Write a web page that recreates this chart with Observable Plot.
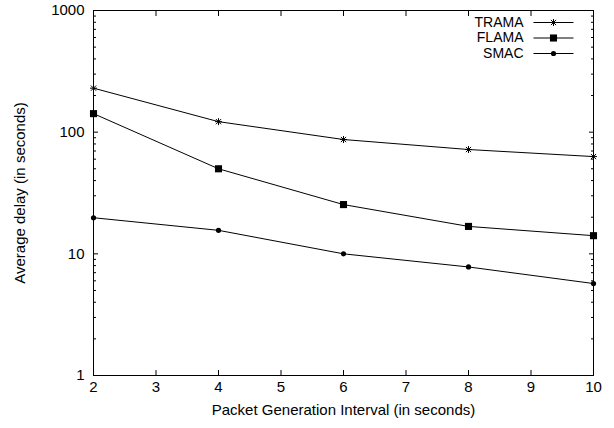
<!DOCTYPE html>
<html>
<head>
<meta charset="utf-8">
<script src="https://cdn.jsdelivr.net/npm/d3@7"></script>
<script src="https://cdn.jsdelivr.net/npm/@observablehq/plot@0.6"></script>
<style>
  html, body { margin: 0; padding: 0; background: #fff; }
  #chart { width: 614px; height: 428px; }
</style>
</head>
<body>
<div id="chart"></div>
<script>
// ---- data ----
const intervals = [2, 4, 6, 8, 10];
const tramaDelay = [230, 122, 87, 72, 63];
const flamaDelay = [142, 50, 25.4, 16.8, 14.1];
const smacDelay = [19.8, 15.6, 10, 7.8, 5.7];
const seriesNames = ["TRAMA", "FLAMA", "SMAC"];
const xTicks = [2, 3, 4, 5, 6, 7, 8, 9, 10];
const yMajorTicks = [1, 10, 100, 1000];
const yMinorTicks = [2,3,4,5,6,7,8,9,20,30,40,50,60,70,80,90,200,300,400,500,600,700,800,900];
const xLabel = "Packet Generation Interval (in seconds)";
const yLabel = "Average delay (in seconds)";

// ---- table ----
const seriesValues = [tramaDelay, flamaDelay, smacDelay];
const rows = seriesNames.flatMap((name, s) =>
  intervals.map((x, i) => ({series: name, x, y: seriesValues[s][i]})));

// ---- symbols ----
const asterisk = {
  draw(ctx) {
    const r = 3.5, d = 2.6;
    ctx.moveTo(-r, 0); ctx.lineTo(r, 0);
    ctx.moveTo(0, -r); ctx.lineTo(0, r);
    ctx.moveTo(-d, -d); ctx.lineTo(d, d);
    ctx.moveTo(-d, d); ctx.lineTo(d, -d);
  }
};
const hline = {
  draw(ctx) { ctx.moveTo(-20, 0); ctx.lineTo(20, 0); }
};
const markerFor = {
  TRAMA: {symbol: asterisk, fill: "none", stroke: "black", strokeWidth: 1},
  FLAMA: {symbol: "square", r: 4, fill: "black", stroke: "none"},
  SMAC: {symbol: "circle", r: 2.6, fill: "black", stroke: "none"}
};

const font = "Liberation Sans, Arial, Helvetica, sans-serif";
const noText = () => "";

const marks = [
  Plot.frame({stroke: "black", strokeWidth: 1}),
  // major/minor inward ticks
  Plot.axisX({anchor: "bottom", ticks: xTicks, tickSize: -5, tickFormat: noText, label: null}),
  Plot.axisX({anchor: "top", ticks: xTicks, tickSize: -5, tickFormat: noText, label: null}),
  Plot.axisY({anchor: "left", ticks: yMajorTicks, tickSize: -5, tickFormat: noText, label: null}),
  Plot.axisY({anchor: "right", ticks: yMajorTicks, tickSize: -5, tickFormat: noText, label: null}),
  Plot.axisY({anchor: "left", ticks: yMinorTicks, tickSize: -3, tickFormat: noText, label: null}),
  Plot.axisY({anchor: "right", ticks: yMinorTicks, tickSize: -3, tickFormat: noText, label: null}),
  // labels
  Plot.axisX({anchor: "bottom", ticks: xTicks, tickSize: 0, tickPadding: 6, fontSize: 15,
    label: xLabel, labelAnchor: "center", labelArrow: "none", labelOffset: 39}),
  Plot.axisY({anchor: "left", ticks: yMajorTicks, tickSize: 0, tickPadding: 9, fontSize: 15,
    tickFormat: d => String(d),
    label: yLabel, labelAnchor: "center", labelArrow: "none", labelOffset: 79}),
];

seriesNames.forEach((name, i) => {
  const data = rows.filter(d => d.series === name);
  marks.push(Plot.line(data, {x: "x", y: "y", stroke: "black", strokeWidth: 1}));
  marks.push(Plot.dot(data, {x: "x", y: "y", ...markerFor[name]}));
  // legend
  const ly = 12 + 15.5 * i;
  marks.push(Plot.text([name], {text: d => d, frameAnchor: "top-right", textAnchor: "end",
    lineAnchor: "middle", dx: -70, dy: ly, fontSize: 14, fill: "black"}));
  marks.push(Plot.dot([name], {frameAnchor: "top-right", dx: -40, dy: ly,
    symbol: hline, fill: "none", stroke: "black", strokeWidth: 1}));
  marks.push(Plot.dot([name], {frameAnchor: "top-right", dx: -40, dy: ly,
    ...markerFor[name]}));
});

const chart = Plot.plot({
  width: 614,
  height: 428,
  marginLeft: 93,
  marginRight: 21,
  marginTop: 10,
  marginBottom: 53,
  style: {fontFamily: font, fontSize: "15px", color: "black", background: "white", overflow: "visible"},
  x: {domain: [2, 10]},
  y: {type: "log", domain: [1, 1000]},
  marks
});
document.getElementById("chart").appendChild(chart);
</script>
</body>
</html>
